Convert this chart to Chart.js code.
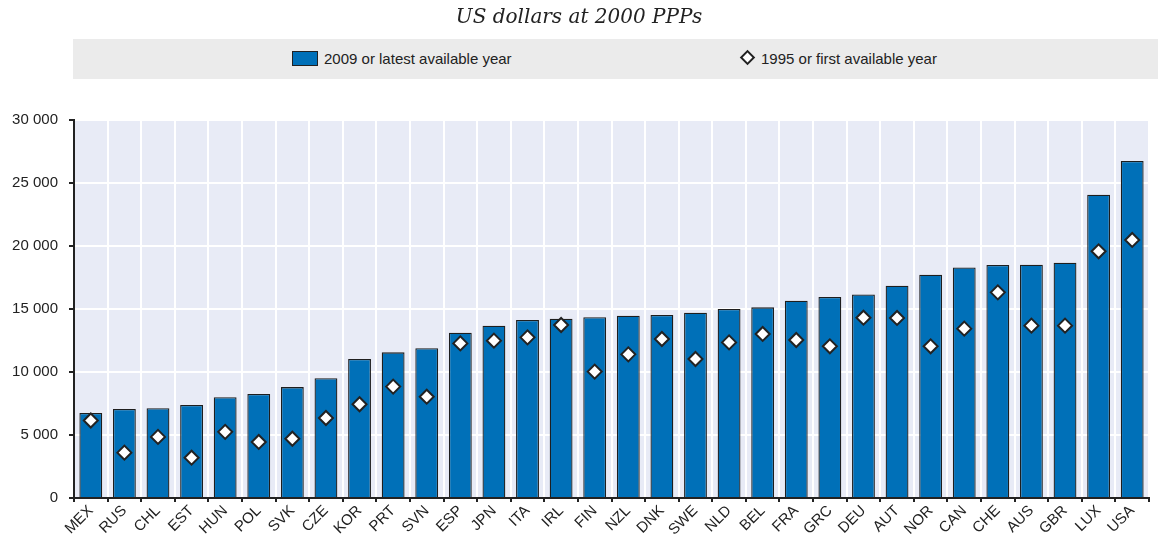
<!DOCTYPE html>
<html>
<head>
<meta charset="utf-8">
<script src="https://cdn.jsdelivr.net/npm/chart.js@4.4.1/dist/chart.umd.min.js"></script>
<style>
  html, body { margin: 0; padding: 0; background: #fff; }
  #wrap { position: relative; width: 1158px; height: 539px; overflow: hidden; }
  #title { position: absolute; left: 0; top: 4px; width: 1158px; text-align: center;
    font-family: "DejaVu Serif", "Liberation Serif", serif; font-style: italic; font-size: 20px; color: #222; }
  #legend { position: absolute; left: 73px; top: 39px; width: 1085px; height: 40px; background: #ebebeb;
    font-family: "Liberation Sans Narrow", "Arial Narrow", "Liberation Sans", Arial, sans-serif; font-size: 15px; color: #222; }
  .item { position: absolute; top: 11px; line-height: 18px; }
  .sq { display: inline-block; width: 24px; height: 13px; background: #0070b8; border: 1px solid #222;
    vertical-align: -2px; margin-right: 6px; }
  .dm { display: inline-block; width: 7px; height: 7px; background: #fff; border: 2px solid #222;
    transform: rotate(45deg); vertical-align: 1px; margin-right: 8px; }
  canvas { position: absolute; left: 0; top: 0; }
</style>
</head>
<body>
<div id="wrap">
  <canvas id="chart" width="1158" height="539"></canvas>
  <div id="title">US dollars at 2000 PPPs</div>
  <div id="legend">
    <div class="item" style="left:219px"><span class="sq"></span>2009 or latest available year</div>
    <div class="item" style="left:669px"><span class="dm"></span>1995 or first available year</div>
  </div>
</div>
<script>
const countries = ['MEX','RUS','CHL','EST','HUN','POL','SVK','CZE','KOR','PRT','SVN','ESP','JPN','ITA','IRL','FIN','NZL','DNK','SWE','NLD','BEL','FRA','GRC','DEU','AUT','NOR','CAN','CHE','AUS','GBR','LUX','USA'];
const latest = [6750, 7060, 7120, 7380, 8000, 8250, 8800, 9500, 11030, 11560, 11880, 13120, 13680, 14130, 14230, 14340, 14470, 14520, 14710, 15000, 15130, 15660, 15950, 16160, 16850, 17720, 18300, 18490, 18520, 18680, 24070, 26750];
const first = [6150, 3600, 4850, 3200, 5250, 4450, 4700, 6350, 7440, 8840, 8040, 12270, 12490, 12750, 13730, 10030, 11400, 12620, 11030, 12350, 13020, 12540, 12040, 14310, 14290, 12040, 13440, 16320, 13680, 13680, 19580, 20480];
const yTicks = [0, 5000, 10000, 15000, 20000, 25000, 30000];

const axisFont = { family: '"Liberation Sans Narrow", "Arial Narrow", "Liberation Sans", Arial, sans-serif', size: 15 };

const plotBg = {
  id: 'plotBg',
  beforeDraw(chart) {
    const { ctx, chartArea: a } = chart;
    ctx.save();
    ctx.fillStyle = '#e8ebf6';
    ctx.fillRect(a.left, a.top, a.right - a.left, a.bottom - a.top);
    ctx.restore();
  }
};

new Chart(document.getElementById('chart').getContext('2d'), {
  type: 'bar',
  data: {
    labels: countries,
    datasets: [
      {
        type: 'line',
        label: '1995 or first available year',
        data: first,
        showLine: false,
        pointStyle: 'rectRot',
        pointRadius: 7,
        pointBackgroundColor: '#fff',
        pointBorderColor: '#222',
        pointBorderWidth: 2,
        order: 0
      },
      {
        label: '2009 or latest available year',
        data: latest,
        backgroundColor: '#0070b8',
        borderColor: '#1e1e1e',
        borderWidth: 1.3,
        barPercentage: 0.68,
        categoryPercentage: 1,
        order: 1
      }
    ]
  },
  options: {
    responsive: false,
    animation: false,
    layout: { padding: { top: 120, right: 5, left: 0, bottom: 0 } },
    plugins: { legend: { display: false }, tooltip: { enabled: false } },
    scales: {
      x: {
        offset: true,
        grid: { offset: true, color: '#fff', lineWidth: 2, tickColor: '#222', tickLength: 4, drawOnChartArea: true },
        border: { color: '#222', width: 2 },
        ticks: { color: '#222', font: axisFont, maxRotation: 45, minRotation: 45, padding: 0, autoSkip: false },
        afterFit(s) { s.height = 41; }
      },
      y: {
        min: 0, max: 30000,
        afterBuildTicks(s) { s.ticks = yTicks.map(v => ({ value: v })); },
        grid: { color: '#fff', lineWidth: 2, tickColor: '#222', tickLength: 5 },
        border: { color: '#222', width: 2 },
        ticks: {
          color: '#222', font: axisFont, padding: 11,
          callback: v => String(v).replace(/\B(?=(\d{3})+(?!\d))/g, ' ')
        },
        afterFit(s) { s.width = 74; }
      }
    }
  },
  plugins: [plotBg]
});
</script>
</body>
</html>
